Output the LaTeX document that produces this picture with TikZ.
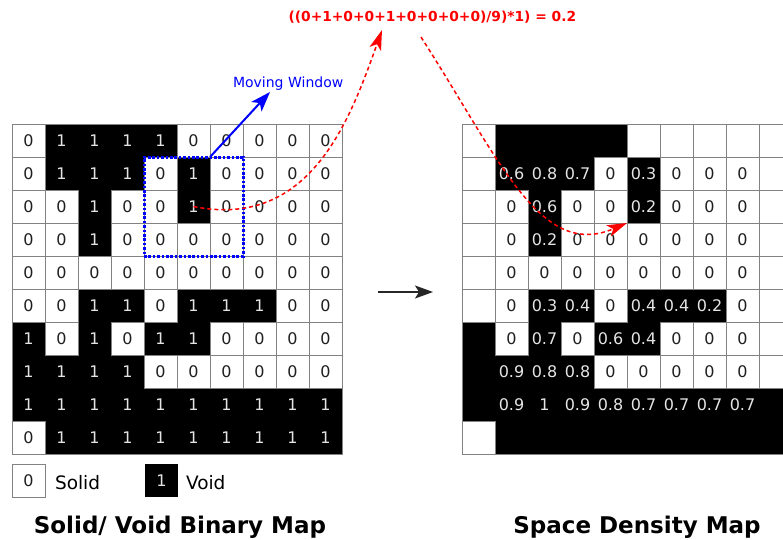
\documentclass[tikz,border=0pt]{standalone}
\usepackage{fontspec}
\setmainfont{DejaVu Sans}
\usetikzlibrary{arrows.meta}
\definecolor{gridgray}{HTML}{828282}
\definecolor{celltxt}{HTML}{E4E4E4}
\definecolor{pureblue}{RGB}{0,0,255}
\definecolor{purered}{RGB}{255,0,0}
\begin{document}
\begin{tikzpicture}[x=1pt,y=-1pt,
  cellbox/.style={minimum size=33pt, inner sep=0pt, outer sep=0pt, anchor=north west,
    font=\fontsize{16}{19}\selectfont},
  wcell/.style={cellbox, fill=white, text=black!88},
  bcell/.style={cellbox, fill=black, text=celltxt},
  gridline/.style={draw=gridgray, line width=1pt},
  reddash/.style={purered, line width=1.5pt, dash pattern=on 4pt off 3pt,
    -{Stealth[length=20pt,width=12pt,inset=5pt]}},
  bluearrow/.style={pureblue, line width=2pt, -{Stealth[length=20pt,width=14pt,inset=5pt]}},
  winbox/.style={draw=pureblue, line width=3pt, dash pattern=on 2.6pt off 1.8pt,
    minimum size=99pt, inner sep=0pt},
  titletext/.style={font=\bfseries\fontsize{23}{27}\selectfont, anchor=base},
  legtext/.style={font=\fontsize{18.5}{22}\selectfont, anchor=base west},
]
\useasboundingbox (0,0) rectangle (783,539);
\fill[white] (0,0) rectangle (783,539);

\def\leftmap{{0,1,1,1,1,0,0,0,0,0},{0,1,1,1,0,1,0,0,0,0},{0,0,1,0,0,1,0,0,0,0},{0,0,1,0,0,0,0,0,0,0},{0,0,0,0,0,0,0,0,0,0},{0,0,1,1,0,1,1,1,0,0},{1,0,1,0,1,1,0,0,0,0},{1,1,1,1,0,0,0,0,0,0},{1,1,1,1,1,1,1,1,1,1},{0,1,1,1,1,1,1,1,1,1}}

\def\rightmap{{w/{},b/{},b/{},b/{},b/{},w/{},w/{},w/{},w/{},w/{}},{w/{},b/0.6,b/0.8,b/0.7,w/0,b/0.3,w/0,w/0,w/0,w/{}},{w/{},w/0,b/0.6,w/0,w/0,b/0.2,w/0,w/0,w/0,w/{}},{w/{},w/0,b/0.2,w/0,w/0,w/0,w/0,w/0,w/0,w/{}},{w/{},w/0,w/0,w/0,w/0,w/0,w/0,w/0,w/0,w/{}},{w/{},w/0,b/0.3,b/0.4,w/0,b/0.4,b/0.4,b/0.2,w/0,w/{}},{b/{},w/0,b/0.7,w/0,b/0.6,b/0.4,w/0,w/0,w/0,w/{}},{b/{},b/0.9,b/0.8,b/0.8,w/0,w/0,w/0,w/0,w/0,w/{}},{b/{},b/0.9,b/1,b/0.9,b/0.8,b/0.7,b/0.7,b/0.7,b/0.7,b/{}},{w/{},b/{},b/{},b/{},b/{},b/{},b/{},b/{},b/{},b/{}}}

% left binary map
\foreach \row [count=\r] in \leftmap {
  \foreach \v [count=\c] in \row {
    \ifnum\v=1
      \node[bcell] (L-\r-\c) at ({12+33*(\c-1)},{124+33*(\r-1)}) {\v};
    \else
      \node[wcell] (L-\r-\c) at ({12+33*(\c-1)},{124+33*(\r-1)}) {\v};
    \fi
  }
}
\foreach \row [count=\r] in \leftmap {
  \foreach \v [count=\c] in \row {
    \ifnum\v=0
      \draw[gridline] (L-\r-\c.north west) rectangle (L-\r-\c.south east);
    \fi
  }
}
\draw[gridline] (L-1-1.north west) rectangle (L-10-10.south east);

% right density map
\foreach \row [count=\r] in \rightmap {
  \foreach \k/\t [count=\c] in \row {
    \if\k b
      \node[bcell] (R-\r-\c) at ({462+33*(\c-1)},{124+33*(\r-1)}) {\t};
    \else
      \node[wcell] (R-\r-\c) at ({462+33*(\c-1)},{124+33*(\r-1)}) {\t};
    \fi
  }
}
\foreach \row [count=\r] in \rightmap {
  \foreach \k/\t [count=\c] in \row {
    \if\k w
      \draw[gridline] (R-\r-\c.north west) rectangle (R-\r-\c.south east);
    \fi
  }
}
\draw[gridline] (R-1-1.north west) rectangle (R-10-10.south east);

% moving window
\node[winbox] (win) at (L-3-6.center) {};
\node[font=\fontsize{14}{16}\selectfont, text=pureblue, anchor=base west] (mw) at (229.5,87) {Moving Window};
\coordinate (mwtip) at (270,92);
\draw[bluearrow] (L-2-6.north east) -- (mwtip);

% formula
\node[font=\bfseries\fontsize{13.8}{16}\selectfont, text=purered, anchor=base west] (formula) at (285,21) {((0+1+0+0+1+0+0+0+0)/9)*1) = 0.2};
\coordinate (f1) at (382,30);
\coordinate (f2) at (421,37);
\draw[reddash] (L-3-6.center) .. controls (310,230) and (350,120) .. (f1);
\draw[reddash] (f2) .. controls (500,160) and (540,260) .. (R-3-6.south west);

% middle arrow
\coordinate (ma1) at (378,292);
\coordinate (ma2) at (433,292);
\draw[black!85, line width=1.2pt, -{Stealth[length=18pt,width=13pt,inset=4pt]}] (ma1) -- (ma2);

% legend
\node[wcell, draw=gridgray, line width=1pt] (legS) at (12,464) {0};
\node[legtext] (legSt) at (51.5,489) {Solid};
\node[bcell] (legV) at (145,464) {1};
\node[legtext] (legVt) at (182.5,489) {Void};

% titles
\node[titletext] (t1) at (180,533) {Solid/ Void Binary Map};
\node[titletext] (t2) at (637,533) {Space Density Map};
\end{tikzpicture}
\end{document}
